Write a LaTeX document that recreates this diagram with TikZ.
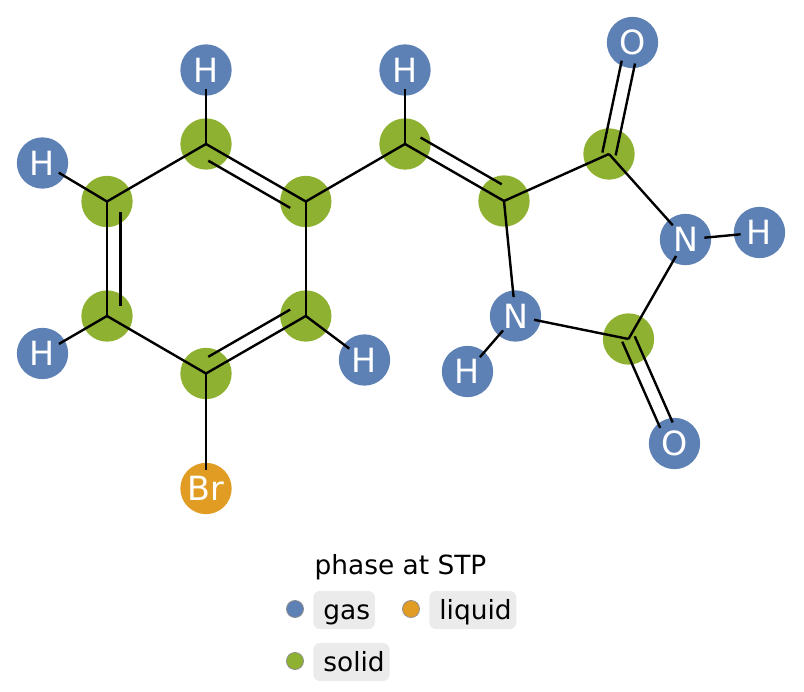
\documentclass[tikz,border=0pt]{standalone}
\usepackage{fontspec}
\setmainfont{DejaVu Sans}
\usetikzlibrary{calc}
\definecolor{gascol}{HTML}{5E81B5}
\definecolor{solidcol}{HTML}{8FB131}
\definecolor{liquidcol}{HTML}{E19C24}
\definecolor{chipcol}{HTML}{EBEBEB}
\tikzset{
  atom/.style={circle,inner sep=0pt,minimum size=38.5pt,text=white,font=\fontsize{25}{25}\selectfont},
  gas/.style={atom,fill=gascol},
  solid/.style={atom,fill=solidcol},
  liquid/.style={atom,fill=liquidcol},
  bond/.style={black,line width=1.8pt},
  endb/.style={shorten >=14.25pt},
  begb/.style={shorten <=14.25pt},
  swatch/.style={circle,inner sep=0pt,minimum size=12.8pt,draw=black!45,line width=0.6pt},
  chip/.style={anchor=west,fill=chipcol,rounded corners=5pt,inner sep=0pt,inner xsep=3.6pt,minimum height=28.5pt,text height=17.5pt,text depth=3.5pt,font=\fontsize{19.8}{20}\selectfont,execute at begin node=\kern4pt}
}
% inner line of a double bond: from, to, turn
\newcommand{\innerbond}[3]{\draw [bond] ($(#1.center)!0.09!(#2.center)!10pt!#3:(#2.center)$) -- ($(#2.center)!0.09!(#1.center)!10pt!-#3:(#1.center)$);}
% carbonyl: both lines beside the axis
\newcommand{\carbonyl}[2]{
  \draw [bond,shorten >=15pt] ($(#1.center)!5.1pt!90:(#2.center)$) -- ($(#2.center)!5.1pt!-90:(#1.center)$);
  \draw [bond,shorten >=15pt] ($(#1.center)!5.1pt!-90:(#2.center)$) -- ($(#2.center)!5.1pt!90:(#1.center)$);
}
\begin{document}
\begin{tikzpicture}[x=0.75pt,y=-0.75pt]
    \useasboundingbox (0,0) rectangle (804,692);
    % ring carbons
    \node [solid] (c1) at (206,144) {};
    \node [solid] (c2) at (305.8,201.5) {};
    \node [solid] (c3) at (305.8,316) {};
    \node [solid] (c4) at (206,373.5) {};
    \node [solid] (c5) at (107,316) {};
    \node [solid] (c6) at (107,201.5) {};
    % second ring
    \node [solid] (c7) at (405,144) {};
    \node [solid] (c8) at (504,201) {};
    \node [solid] (c9) at (609,154) {};
    \node [solid] (c10) at (628.5,339) {};
    \node [gas] (n1) at (685.5,239.5) {N};
    \node [gas] (n2) at (515.5,316) {N};
    \node [gas] (o1) at (632.5,42.5) {O};
    \node [gas] (o2) at (674.5,443.5) {O};
    \node [liquid] (br) at (206,488.5) {Br};
    % hydrogens
    \node [gas] (h1) at (206,70) {H};
    \node [gas] (h2) at (42.5,163) {H};
    \node [gas] (h3) at (42.5,353.5) {H};
    \node [gas] (h4) at (364.5,360) {H};
    \node [gas] (h5) at (405,70) {H};
    \node [gas] (h6) at (759.5,232.5) {H};
    \node [gas] (h7) at (467.5,371.5) {H};
    % bonds
    \draw [bond] (c1.center) -- (c2.center);
    \draw [bond] (c2.center) -- (c3.center);
    \draw [bond] (c3.center) -- (c4.center);
    \draw [bond] (c4.center) -- (c5.center);
    \draw [bond] (c5.center) -- (c6.center);
    \draw [bond] (c6.center) -- (c1.center);
    \draw [bond] (c2.center) -- (c7.center);
    \draw [bond] (c7.center) -- (c8.center);
    \draw [bond] (c8.center) -- (c9.center);
    \draw [bond,endb] (c9.center) -- (n1.center);
    \draw [bond,begb] (n1.center) -- (c10.center);
    \draw [bond,begb] (n2.center) -- (c10.center);
    \draw [bond,endb] (c8.center) -- (n2.center);
    \draw [bond,endb] (c1.center) -- (h1.center);
    \draw [bond,endb] (c6.center) -- (h2.center);
    \draw [bond,endb] (c5.center) -- (h3.center);
    \draw [bond,endb] (c3.center) -- (h4.center);
    \draw [bond,endb] (c7.center) -- (h5.center);
    \draw [bond,begb,endb] (n1.center) -- (h6.center);
    \draw [bond,begb,endb] (n2.center) -- (h7.center);
    \draw [bond,endb] (c4.center) -- (br.center);
    \innerbond{c1}{c2}{-90}
    \innerbond{c3}{c4}{-90}
    \innerbond{c5}{c6}{-90}
    \innerbond{c7}{c8}{90}
    \carbonyl{c9}{o1}
    \carbonyl{c10}{o2}
    % legend
    \node [font=\fontsize{19.8}{20}\selectfont] (title) at (400.5,567) {phase at STP};
    \node [swatch,fill=gascol] (kgas) at (295,609) {};
    \node [chip] (lgas) at (313,610) {gas};
    \node [swatch,fill=liquidcol] (kliquid) at (411,609) {};
    \node [chip] (lliquid) at (429,610) {liquid};
    \node [swatch,fill=solidcol] (ksolid) at (295,661) {};
    \node [chip] (lsolid) at (313,662) {solid};
\end{tikzpicture}
\end{document}
